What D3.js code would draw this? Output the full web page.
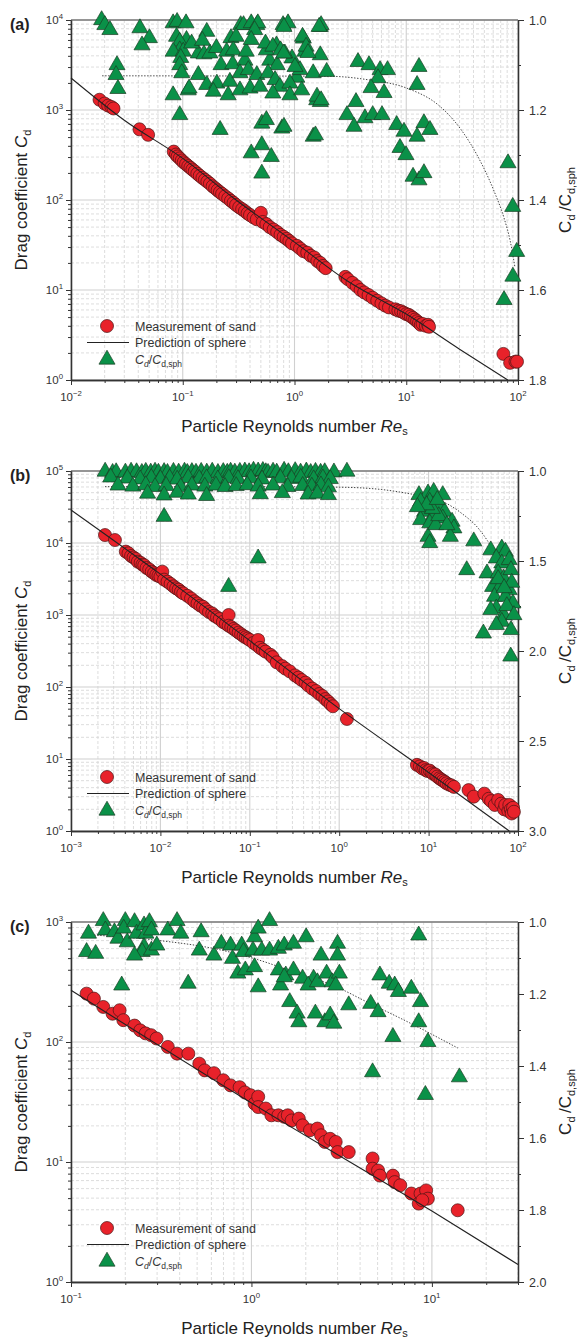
<!DOCTYPE html>
<html><head><meta charset="utf-8">
<script src="https://cdn.jsdelivr.net/npm/d3@7/dist/d3.min.js"></script>
<style>
body{margin:0;background:#fff;}
svg{display:block;font-family:"Liberation Sans",Arial,Helvetica,sans-serif;}
</style></head><body>
<svg id="chart" width="577" height="1339"></svg>
<script>
// ---------------- DATA ----------------
// Panel (a)
const sandA = [[0.018,1300],[0.020,1180],[0.0215,1120],[0.023,1080],[0.024,1040],[0.041,610],[0.049,530],
[0.083,345],[0.087,320],[0.090,305],[0.094,290],[0.098,275],[0.102,262],[0.107,250],[0.112,238],[0.117,228],[0.122,218],[0.128,208],[0.135,196],[0.142,186],[0.150,176],[0.158,168],[0.166,160],[0.175,152],[0.185,142],[0.195,135],[0.205,128],[0.215,122],[0.225,117],[0.24,110],[0.255,104],[0.27,98],[0.285,93],[0.30,88],[0.32,83],[0.34,79],[0.36,75],[0.38,71],[0.40,68],[0.43,64],[0.46,61],[0.50,72],[0.52,57],[0.56,54],[0.60,50],[0.65,47],[0.70,44],[0.75,41],[0.80,39],[0.85,37],[0.90,35],[0.95,33],[1.05,31],[1.12,29],[1.2,27],[1.3,26],[1.4,24],[1.5,23],[1.6,21],[1.7,20],[1.8,18.5],[1.9,17.5],
[2.85,14],[3.0,13.2],[3.3,12],[3.6,11],[3.9,10],[4.2,9.4],[4.6,8.8],[5.0,8.2],[5.5,7.6],[6.0,7.1],[6.5,6.7],[7.0,6.4],[8.0,6.1],[8.5,5.9],[9.0,5.8],[9.5,5.6],[10,5.4],[10.5,5.3],[11,5.1],[11.5,4.9],[12,4.7],[12.5,4.5],[13,4.3],[13.5,4.1],[14,4.2],[15,4.0],[15.7,4.1],[16,3.9],
[74,1.95],[85,1.55],[95,1.6],[98,1.6]];
const ratioA = [[0.0188,1.000],[0.0201,1.011],[0.0223,1.022],[0.0258,1.100],[0.0253,1.122],[0.0263,1.153],
[0.0414,1.018],[0.0503,1.040],[0.0432,1.056],
[0.082,1.007],[0.089,1.004],[0.107,1.007],[0.088,1.037],[0.108,1.044],[0.094,1.048],[0.094,1.067],[0.082,1.070],[0.101,1.070],[0.096,1.084],[0.094,1.100],[0.098,1.118],[0.082,1.167],[0.112,1.156],[0.094,1.211],[0.114,1.152],
[0.164,1.026],[0.138,1.074],[0.155,1.076],[0.175,1.074],[0.138,1.122],[0.164,1.144],[0.202,1.141],[0.188,1.159],[0.216,1.244],
[0.12,1.052],[0.15,1.046],[0.20,1.062],[0.22,1.100],[0.28,1.098],[0.60,1.090],[0.70,1.100],[0.95,1.085],[1.05,1.128],[0.36,1.090],[0.27,1.040],
[0.247,1.070],[0.283,1.067],[0.264,1.137],[0.255,1.167],[0.325,1.118],[0.325,1.156],[0.386,1.111],[0.40,1.152],[0.37,1.070],[0.46,1.122],[0.49,1.148],[0.58,1.118],[0.56,1.067],[0.69,1.056],[0.67,1.133],[0.74,1.148],[0.64,1.163],[0.82,1.074],[0.91,1.141],[0.91,1.167],[1.12,1.111],[1.16,1.156],[1.20,1.041],[1.24,1.070],[1.47,1.118],[1.58,1.178],[1.70,1.182],[1.70,1.078],[1.70,1.015],[1.94,1.115],
[0.33,1.011],[0.46,1.011],[0.79,1.011],[0.35,1.011],[0.41,1.007],[0.47,1.007],[0.44,1.022],[0.30,1.037],[0.41,1.044],[0.55,1.052],[0.64,1.059],[0.75,1.067],[0.80,1.074],[0.875,1.007],[0.805,1.015],[1.73,1.011],[1.66,1.015],[1.18,1.037],[1.27,1.059],[1.32,1.073],[1.01,1.104],[1.59,1.170],[1.73,1.178],
[0.51,1.230],[0.56,1.222],[0.77,1.241],[1.47,1.259],[0.41,1.296],[0.51,1.278],[0.62,1.304],[0.51,1.341],[0.805,1.237],[1.54,1.256],
[3.70,1.093],[4.64,1.100],[5.83,1.111],[6.80,1.111],[5.59,1.129],[4.84,1.151],[6.33,1.162],[3.55,1.182],[2.95,1.211],[3.41,1.237],[4.27,1.218],[5.01,1.211],[6.07,1.211],[8.21,1.233],[9.55,1.248],[8.79,1.284],[9.95,1.300],[12.5,1.259],[14.4,1.229],[16.3,1.244],[11.5,1.348],[13.0,1.356],[14.4,1.340],[13.0,1.104],[12.5,1.144],
[81.4,1.318],[89.7,1.415],[97.3,1.515],[90,1.57],[75,1.622]];
const sphereA = [[0.01,2270],[0.03,770],[0.1,290],[0.3,100],[1,34],[3,12.5],[10,5.4],[30,2.2],[81,1]];
const fitA = [[0.019,1.124],[2,1.125],[4.6,1.133],[10,1.151],[19.6,1.19],[26,1.22],[31,1.244],[43,1.30],[61,1.38],[75,1.44],[85,1.49],[94,1.55]];
const ratioTicksA = [1.0,1.2,1.4,1.6,1.8];
const ratioMinorA = [1.1,1.3,1.5,1.7];

// Panel (b)
const sandB = [[0.0024,12900],[0.0031,11000],[0.0041,7600],[0.0044,7200],[0.0047,6600],[0.0050,6300],[0.0053,6000],[0.0056,5500],[0.0060,5300],[0.0063,5000],[0.0066,4900],[0.0070,4500],[0.0075,4300],[0.0080,4000],[0.0085,3800],[0.0090,3600],[0.0095,3500],[0.0100,3400],[0.0105,4000],[0.011,3100],[0.012,2900],[0.013,2700],[0.014,2500],[0.015,2350],[0.016,2250],[0.017,2100],[0.018,2000],[0.020,1850],[0.022,1700],[0.024,1550],[0.026,1450],[0.028,1350],[0.030,1300],[0.032,1200],[0.035,1100],[0.038,1050],[0.040,980],[0.043,930],[0.046,880],[0.050,800],[0.054,760],[0.058,1000],[0.058,710],[0.062,680],[0.066,640],[0.070,610],[0.075,570],[0.080,540],[0.085,510],[0.090,490],[0.095,470],[0.100,450],[0.11,410],[0.12,380],[0.124,450],[0.13,350],[0.14,330],[0.15,310],[0.17,280],[0.18,260],[0.20,220],[0.23,195],[0.25,180],[0.28,165],[0.32,145],[0.35,135],[0.38,125],[0.42,115],[0.45,105],[0.50,95],[0.55,88],[0.60,80],[0.65,75],[0.70,68],[0.75,63],[0.80,58],[0.85,54],[1.22,36],
[7.4,8.3],[8.0,7.9],[8.5,7.4],[8.9,7.5],[9.3,7.0],[9.8,6.8],[10.3,6.9],[10.8,6.5],[11.3,6.2],[11.9,6.1],[12.5,5.7],[13.2,5.4],[13.8,5.2],[14.5,5.0],[15.2,4.8],[15.9,4.6],[17,4.4],[18,4.3],[19.2,4.1],
[28,3.7],[32,3.0],[42,3.3],[47,2.8],[50,2.6],[55,2.3],[60,2.7],[65,2.4],[70,2.0],[72,2.3],[78,1.9],[80,2.3],[83,2.0],[85,1.75],[88,2.1],[90,1.85]];
const ratioB = [[0.00241,1.003],[0.00292,1.010],[0.0032,1.006],[0.00406,1.008],[0.0047,1.003],[0.00541,1.006],[0.0062,1.010],[0.00686,1.004],[0.0078,1.008],[0.00871,1.003],[0.0095,1.009],[0.0110,1.005],[0.012,1.010],[0.0140,1.004],[0.016,1.008],[0.0186,1.003],[0.020,1.010],[0.0225,1.005],[0.025,1.009],[0.0286,1.004],[0.033,1.008],[0.0380,1.003],[0.044,1.010],[0.0505,1.005],[0.056,1.009],[0.0610,1.003],[0.068,1.008],[0.0774,1.004],[0.088,1.002],[0.0982,1.006],[0.11,0.998],[0.124,1.002],[0.14,0.999],[0.151,1.006],[0.16,1.010],[0.182,1.003],[0.20,1.008],[0.242,0.998],[0.27,1.006],[0.322,1.000],[0.37,1.008],[0.429,1.002],[0.48,1.010],[0.543,1.004],[0.62,1.009],[0.689,1.006],[0.873,1.007],[1.22,1.003],
[0.00278,1.035],[0.00427,1.041],[0.00595,1.046],[0.00791,1.038],[0.0100,1.044],[0.0127,1.040],[0.0154,1.047],[0.0205,1.038],[0.0272,1.043],[0.0329,1.040],[0.0438,1.046],[0.0582,1.039],[0.0738,1.044],[0.103,1.040],[0.137,1.046],[0.220,1.040],[0.293,1.043],[0.371,1.037],[0.518,1.045],[0.657,1.040],[0.794,1.044],
[0.00336,1.080],[0.00492,1.086],[0.00686,1.078],[0.00871,1.088],[0.0116,1.082],[0.0169,1.090],[0.0225,1.080],[0.0314,1.086],[0.0418,1.080],[0.0529,1.088],[0.0704,1.083],[0.0936,1.078],[0.124,1.086],[0.182,1.080],[0.266,1.088],[0.390,1.082],[0.494,1.086],[0.625,1.079],[0.757,1.090],
[0.00719,1.125],[0.0110,1.135],[0.0154,1.120],[0.0205,1.130],[0.0329,1.138],[0.131,1.128],[0.231,1.122],[0.449,1.130],[0.569,1.125],[0.757,1.133],
[0.011,1.254],[0.124,1.485],[0.058,1.643],
[7.8,1.133],[9.85,1.124],[11.4,1.115],[14.4,1.133],[8.15,1.17],[10.3,1.17],[13.1,1.189],[15.1,1.226],[9.0,1.226],[11.4,1.244],[14.4,1.263],[18.3,1.281],[8.15,1.272],[10.3,1.29],[19.2,1.318],[17.5,1.365],[9.85,1.365],[10.3,1.40],[12,1.30],[13,1.25],[11,1.21],[9.5,1.19],[12.5,1.16],[16,1.30],[7.5,1.2],
[32,1.39],[26.7,1.55],
[49.6,1.44],[65.9,1.43],[72.4,1.448],[57.2,1.485],[65.9,1.513],[79.8,1.494],[45,1.568],[60,1.568],[69.2,1.596],[83.5,1.55],[52,1.643],[62.9,1.643],[79.8,1.661],[54.6,1.698],[72.4,1.698],[87.7,1.735],[57.2,1.763],[49.6,1.772],[69.2,1.80],[65.9,1.837],[41,1.902],[57.2,1.855],[83.5,1.883],[83,2.03],[75,1.75],[85,1.62],[90,1.8],[60,1.6],[70,1.65]];
const sphereB = [[0.001,28800],[0.01,3700],[0.1,440],[1,50],[10,6.5],[80,1]];
const fitB = [[0.0024,1.087],[0.1,1.087],[1,1.09],[3,1.103],[5.6,1.123],[14.4,1.17],[23.4,1.235],[37.3,1.328],[54.6,1.457],[72.4,1.606],[83.5,1.79],[87,1.86]];
const ratioTicksB = [1.0,1.5,2.0,2.5,3.0];
const ratioMinorB = [1.25,1.75,2.25,2.75];

// Panel (c)
const sandC = [[0.122,253],[0.134,230],[0.151,196],[0.170,172],[0.186,184],[0.195,152],[0.225,137],[0.242,125],[0.259,118],[0.278,114],[0.298,107],[0.344,91],[0.387,80],[0.447,80],[0.514,66],[0.551,58],[0.62,55],[0.698,48],[0.766,43.5],[0.86,42],[0.92,38],[0.99,36],[1.04,30.7],[1.09,35],[1.09,28.7],[1.2,27.9],[1.29,24.5],[1.41,24.5],[1.52,23.8],[1.59,24.5],[1.67,22.2],[1.83,23],[1.92,20.2],[2.11,18.4],[2.32,19],[2.43,16.7],[2.55,14.7],[2.73,15.6],[2.93,14.7],[3.0,12.1],[3.46,12.1],[4.69,10.7],[4.69,8.8],[5.03,8.5],[5.15,7.7],[6.08,7.7],[6.22,6.8],[6.68,6.4],[7.69,5.46],[8.45,4.5],[8.65,5.46],[9.29,5.8],[9.5,4.95],[8.85,4.8],[13.9,3.96]];
const ratioC = [[0.125,1.032],[0.122,1.083],[0.137,1.088],[0.151,0.997],[0.155,1.023],[0.174,1.028],[0.182,1.046],[0.200,0.997],[0.196,1.018],[0.205,1.056],[0.225,1.0],[0.231,1.032],[0.254,1.009],[0.260,1.032],[0.272,1.0],[0.279,1.023],[0.254,1.069],[0.248,1.083],[0.225,1.093],[0.279,1.079],[0.299,1.065],[0.344,1.023],[0.387,0.997],[0.406,1.032],[0.191,1.176],[0.446,1.171],[0.514,1.079],[0.526,1.028],[0.62,1.093],[0.681,1.06],[0.766,1.065],[0.785,1.102],[0.883,1.065],[0.903,1.083],[0.841,1.143],[0.925,1.134],[1.04,1.042],[1.02,1.079],[1.04,1.125],[1.09,1.181],[1.09,1.018],[1.26,0.997],[1.14,1.079],[1.26,1.079],[1.41,1.074],[1.52,1.065],[1.71,1.06],[2.01,1.042],[2.43,1.093],[3.0,1.06],[3.0,1.093],[1.41,1.134],[1.55,1.148],[1.71,1.134],[1.45,1.176],[1.52,1.153],[1.92,1.157],[2.21,1.157],[2.06,1.176],[2.32,1.167],[2.61,1.143],[2.80,1.167],[3.07,1.143],[2.93,1.176],[1.63,1.222],[1.79,1.254],[1.83,1.278],[2.26,1.254],[2.55,1.278],[2.73,1.259],[2.86,1.282],[3.46,1.231],[4.58,1.227],[5.03,1.25],[5.15,1.148],[5.80,1.171],[6.22,1.176],[6.52,1.194],[7.69,1.185],[8.65,1.222],[8.45,1.278],[6.08,1.319],[9.5,1.333],[4.69,1.417],[14.2,1.431],[8.45,1.037],[9.2,1.48]];
const sphereC = [[0.1,270],[1,31],[10,3.9],[30,1.4]];
const fitC = [[0.12,1.035],[0.29,1.05],[0.68,1.078],[1.09,1.105],[1.74,1.14],[2.8,1.175],[4.48,1.225],[7.18,1.275],[13.9,1.35]];
const ratioTicksC = [1.0,1.2,1.4,1.6,1.8,2.0];
const ratioMinorC = [1.1,1.3,1.5,1.7,1.9];

const panelLabels = ["(a)","(b)","(c)"];
const xDomains = [[0.01,100],[0.001,100],[0.1,30]];
const yDomains = [[1,1e4],[1,1e5],[1,1e3]];
const rDomains = [[1.0,1.8],[1.0,3.0],[1.0,2.0]];
const legendLabels = ["Measurement of sand","Prediction of sphere"];

// ---------------- LAYOUT ----------------
const L = 71, R = 518, PH = 360;
const tops = [20, 471, 922];
const RED = "#e8222a", GREEN = "#0a9148";

const svg = d3.select("#chart");
svg.append("rect").attr("width",577).attr("height",1339).attr("fill","#fff");

const panels = [
  {sand:sandA, ratio:ratioA, sphere:sphereA, fit:fitA, rt:ratioTicksA, rm:ratioMinorA},
  {sand:sandB, ratio:ratioB, sphere:sphereB, fit:fitB, rt:ratioTicksB, rm:ratioMinorB},
  {sand:sandC, ratio:ratioC, sphere:sphereC, fit:fitC, rt:ratioTicksC, rm:ratioMinorC}
];

function logTicks(dom){
  const maj=[], min=[];
  for(let k=Math.floor(Math.log10(dom[0])); k<=Math.ceil(Math.log10(dom[1])); k++){
    for(let m=1;m<=9;m++){
      const v = m*Math.pow(10,k);
      if(v>=dom[0]*0.999 && v<=dom[1]*1.001) (m===1?maj:min).push(v);
    }
  }
  return {maj,min};
}
function powLabel(sel, v, fs){
  const e = Math.round(Math.log10(v));
  sel.append("tspan").text("10");
  sel.append("tspan").attr("dy",-5).attr("font-size",fs*0.68).text(e<0 ? "\u2212"+(-e) : String(e));
}

panels.forEach((p,i)=>{
  const top = tops[i], bot = top+PH;
  const x = d3.scaleLog().domain(xDomains[i]).range([L,R]);
  const y = d3.scaleLog().domain(yDomains[i]).range([bot,top]);
  const yr = d3.scaleLinear().domain(rDomains[i]).range([top,bot]);
  const g = svg.append("g");
  const xt = logTicks(xDomains[i]), yt = logTicks(yDomains[i]);

  // grid
  const grid = g.append("g");
  grid.selectAll(".gxm").data(xt.min).join("line")
    .attr("x1",d=>x(d)).attr("x2",d=>x(d)).attr("y1",top).attr("y2",bot)
    .attr("stroke","#d4d4d4").attr("stroke-width",0.8).attr("stroke-dasharray","3,2");
  grid.selectAll(".gym").data(yt.min).join("line")
    .attr("x1",L).attr("x2",R).attr("y1",d=>y(d)).attr("y2",d=>y(d))
    .attr("stroke","#d4d4d4").attr("stroke-width",0.8).attr("stroke-dasharray","3,2");
  grid.selectAll(".gxM").data(xt.maj).join("line")
    .attr("x1",d=>x(d)).attr("x2",d=>x(d)).attr("y1",top).attr("y2",bot)
    .attr("stroke","#d0d0d0").attr("stroke-width",1.1);
  grid.selectAll(".gyM").data(yt.maj).join("line")
    .attr("x1",L).attr("x2",R).attr("y1",d=>y(d)).attr("y2",d=>y(d))
    .attr("stroke","#d0d0d0").attr("stroke-width",1.1);

  // top border
  g.append("line").attr("x1",L).attr("x2",R).attr("y1",top).attr("y2",top)
    .attr("stroke","#7a7a7a").attr("stroke-width",1.6);

  // axes
  const styleAxis = a => { a.select(".domain").attr("stroke","#333").attr("stroke-width",1.3);
    a.selectAll(".tick line").attr("stroke","#333").attr("stroke-width",1); a.selectAll("text").remove(); };
  g.append("g").attr("transform",`translate(0,${bot})`)
    .call(d3.axisBottom(x).tickValues(xt.min).tickSize(3).tickSizeOuter(0).tickFormat("")).call(styleAxis);
  g.append("g").attr("transform",`translate(0,${bot})`)
    .call(d3.axisBottom(x).tickValues(xt.maj).tickSize(5).tickSizeOuter(0).tickFormat("")).call(styleAxis);
  g.append("g").attr("transform",`translate(${L},0)`)
    .call(d3.axisLeft(y).tickValues(yt.min).tickSize(3).tickSizeOuter(0).tickFormat("")).call(styleAxis);
  g.append("g").attr("transform",`translate(${L},0)`)
    .call(d3.axisLeft(y).tickValues(yt.maj).tickSize(5).tickSizeOuter(0).tickFormat("")).call(styleAxis);
  g.append("g").attr("transform",`translate(${R},0)`)
    .call(d3.axisRight(yr).tickValues(p.rm).tickSize(3).tickSizeOuter(0).tickFormat("")).call(styleAxis);
  g.append("g").attr("transform",`translate(${R},0)`)
    .call(d3.axisRight(yr).tickValues(p.rt).tickSize(6).tickSizeOuter(0).tickFormat("")).call(styleAxis);

  // tick labels
  xt.maj.forEach(v=>{
    const t = g.append("text").attr("x",x(v)).attr("y",bot+21).attr("text-anchor","middle")
      .attr("font-size",11.5).attr("fill","#333");
    powLabel(t,v,11.5);
  });
  yt.maj.forEach(v=>{
    const t = g.append("text").attr("x",L-8).attr("y",y(v)+4).attr("text-anchor","end")
      .attr("font-size",11.5).attr("fill","#333");
    powLabel(t,v,11.5);
  });
  p.rt.forEach(v=>{
    g.append("text").attr("x",R+11).attr("y",yr(v)+4.5).attr("font-size",12.5).attr("fill","#333")
      .text(v.toFixed(1));
  });

  // titles
  const xtT = g.append("text").attr("x",(L+R)/2).attr("y",bot+52).attr("text-anchor","middle")
    .attr("font-size",17).attr("fill","#222");
  xtT.append("tspan").text("Particle Reynolds number ");
  xtT.append("tspan").attr("font-style","italic").text("Re");
  xtT.append("tspan").attr("font-size",11).attr("dy",3).text("s");

  const ytT = g.append("text").attr("transform",`translate(27,${top+PH/2}) rotate(-90)`)
    .attr("text-anchor","middle").attr("font-size",17).attr("fill","#222");
  ytT.append("tspan").text("Drag coefficient ");
  ytT.append("tspan").attr("font-style","italic").text("C");
  ytT.append("tspan").attr("font-size",11).attr("dy",4).text("d");

  const rtT = g.append("text").attr("transform",`translate(571,${top+PH/2}) rotate(-90)`)
    .attr("text-anchor","middle").attr("font-size",17).attr("fill","#222");
  rtT.append("tspan").text("C");
  rtT.append("tspan").attr("font-size",11).attr("dy",4).text("d");
  rtT.append("tspan").attr("dy",-4).text("\u2009/");
  rtT.append("tspan").text("C");
  rtT.append("tspan").attr("font-size",11).attr("dy",4).text("d,sph");

  g.append("text").attr("x",10).attr("y",top+10).attr("font-size",16).attr("font-weight","bold")
    .attr("fill","#222").text(panelLabels[i]);

  // fit dotted line
  g.append("path").datum(p.fit)
    .attr("d", d3.line().x(d=>x(d[0])).y(d=>yr(d[1])).curve(d3.curveMonotoneX))
    .attr("fill","none").attr("stroke","#444").attr("stroke-width",1).attr("stroke-dasharray","1.4,1.6");

  // triangles
  const tri = d3.symbol().type(d3.symbolTriangle).size(112);
  g.append("g").selectAll("path").data(p.ratio).join("path")
    .attr("d",tri).attr("transform",d=>`translate(${x(d[0])},${yr(d[1])})`)
    .attr("fill",GREEN).attr("stroke","#1b3d24").attr("stroke-width",0.7);

  // circles
  g.append("g").selectAll("circle").data(p.sand).join("circle")
    .attr("cx",d=>x(d[0])).attr("cy",d=>y(d[1])).attr("r",6.5)
    .attr("fill",RED).attr("stroke","#4a1414").attr("stroke-width",0.7);

  // sphere line
  g.append("path").datum(p.sphere)
    .attr("d", d3.line().x(d=>x(d[0])).y(d=>y(d[1])).curve(d3.curveMonotoneX))
    .attr("fill","none").attr("stroke","#222").attr("stroke-width",1.1);

  // legend
  const lg = g.append("g");
  lg.append("circle").attr("cx",107).attr("cy",top+306).attr("r",6.5)
    .attr("fill",RED).attr("stroke","#4a1414").attr("stroke-width",0.7);
  lg.append("text").attr("x",135).attr("y",top+310.5).attr("font-size",12.5).attr("fill","#333").text(legendLabels[0]);
  lg.append("line").attr("x1",87).attr("x2",129).attr("y1",top+322.5).attr("y2",top+322.5)
    .attr("stroke","#222").attr("stroke-width",1.1);
  lg.append("text").attr("x",135).attr("y",top+327).attr("font-size",12.5).attr("fill","#333").text(legendLabels[1]);
  lg.append("path").attr("d",tri).attr("transform",`translate(107,${top+339.5})`)
    .attr("fill",GREEN).attr("stroke","#1b3d24").attr("stroke-width",0.7);
  const lt = lg.append("text").attr("x",135).attr("y",top+343.5).attr("font-size",12.5).attr("fill","#333");
  lt.append("tspan").attr("font-style","italic").text("C");
  lt.append("tspan").attr("font-style","italic").attr("font-size",8.5).attr("dy",3).text("d");
  lt.append("tspan").attr("dy",-3).text("/");
  lt.append("tspan").attr("font-style","italic").text("C");
  lt.append("tspan").attr("font-size",8.5).attr("dy",3).text("d,sph");
});
</script>
</body></html>
